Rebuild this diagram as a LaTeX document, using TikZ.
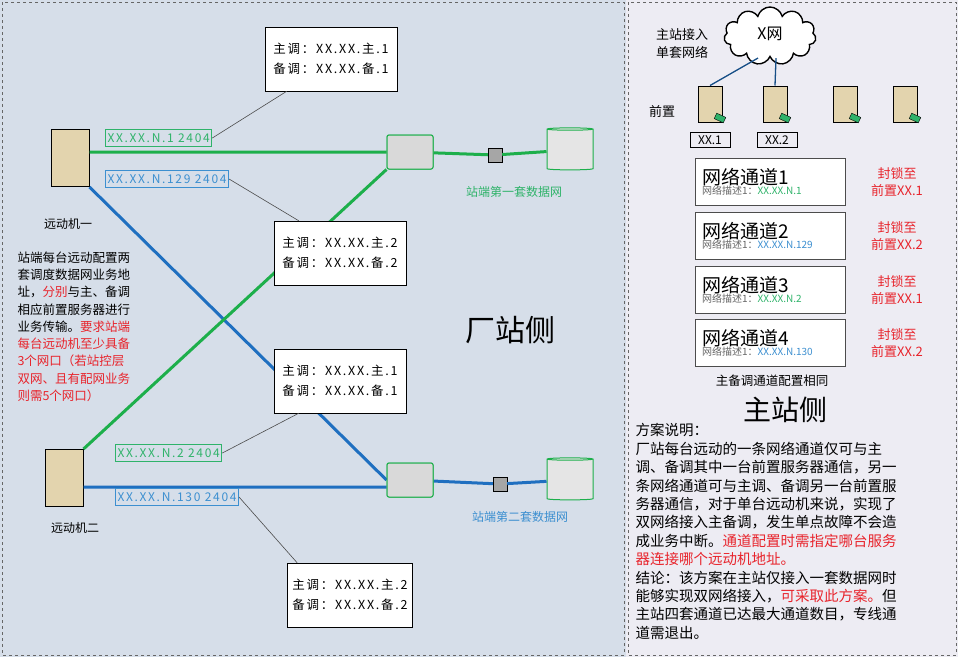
\documentclass[tikz,border=0pt]{standalone}
\usepackage{fontspec}
\setmainfont{Noto Sans CJK SC}
\newfontfamily\widefont[LetterSpace=14]{Noto Sans CJK SC}
\usepackage{tikz}
\usetikzlibrary{shapes.geometric, shapes.symbols, arrows.meta, positioning}

\definecolor{leftbg}{HTML}{D6DEE9}
\definecolor{rightbg}{HTML}{EDECF3}
\definecolor{netgreen}{HTML}{1DAF4B}
\definecolor{netblue}{HTML}{1F6FC0}
\definecolor{lblblue}{HTML}{3C8FD0}
\definecolor{lblgreen}{HTML}{2FB36A}
\definecolor{warnred}{HTML}{E8242C}
\definecolor{serverbeige}{HTML}{E3D4AE}

\tikzset{
    server/.style={draw=black, line width=1pt, fill=serverbeige, minimum width=#1, minimum height=1.5*#1, inner sep=0pt},
    addrbox/.style={rectangle, draw, fill=white, minimum width=132pt, minimum height=64pt, align=left, font=\widefont\fontsize{12.5}{20}\selectfont, inner sep=5pt},
    iplabel/.style={rectangle, draw=#1, line width=1pt, text=#1, fill=leftbg, font=\widefont\fontsize{12}{13}\selectfont, inner sep=2pt, minimum height=17pt},
    thin/.style={draw=black!70, line width=0.6pt},
    greenline/.style={draw=netgreen, line width=3pt},
    blueline/.style={draw=netblue, line width=3pt},
    switchbox/.style={rectangle, draw=netgreen, fill=black!15, line width=1pt, minimum width=46pt, minimum height=34pt, rounded corners=2pt},
    router/.style={cylinder, shape border rotate=90, aspect=0.35, draw=netgreen, line width=1pt, fill=black!10, minimum width=46pt, minimum height=42pt},
    lockbox/.style={rectangle, draw=black, fill=black!35, minimum width=14pt, minimum height=14pt, inner sep=0pt},
    chanbox/.style={rectangle, draw=black!70, fill=white, line width=1pt, text width=136pt, minimum height=47pt, inner xsep=7pt, inner ysep=3pt, align=left},
    redtag/.style={text=warnred, align=center, font=\fontsize{13}{17}\selectfont},
    plain/.style={font=\fontsize{13}{16}\selectfont}
}

\begin{document}
\begin{tikzpicture}[x=1pt, y=-1pt]

% Backgrounds
\useasboundingbox (0,0) rectangle (958,657);
\fill[leftbg] (0,0) rectangle (626,657);
\fill[rightbg] (626,0) rectangle (958,657);
\draw[dashed, black!60] (2,2) rectangle (624,655);
\draw[dashed, black!60] (628,2) rectangle (956,655);

% Station side devices
\node[server=38pt] (rtu1) at (70,158) {};
\node[server=38pt] (rtu2) at (64,478) {};
\node[plain, font=\fontsize{12}{14}\selectfont] (rtu1lbl) at (68,224) {远动机一};
\node[plain, font=\fontsize{12}{14}\selectfont] (rtu2lbl) at (75,528) {远动机二};

\node[switchbox] (sw1) at (410,152) {};
\node[switchbox] (sw2) at (410,480) {};
\node[lockbox] (lock1) at (495,155) {};
\node[lockbox] (lock2) at (500,484) {};
\node[router] (rt1) at (570,150) {};
\node[router] (rt2) at (570,480) {};

% Network lines
\draw[greenline] (rtu1.east |- 0,152) -- (sw1) -- (lock1) -- (rt1);
\draw[blueline] (rtu2.east |- 0,487) -- (sw2.west |- 0,487) (sw2) -- (lock2) -- (rt2);
\draw[blueline] (rtu1.south east) -- (sw2.west);
\draw[greenline] (rtu2.north east) -- (sw1.south west);
\node[switchbox] at (sw1) {};
\node[switchbox] at (sw2) {};

% Address boxes
\node[addrbox] (addr1) at (331,59) {主调：XX.XX.主.1\\备调：XX.XX.备.1};
\node[addrbox] (addr2) at (340,253) {主调：XX.XX.主.2\\备调：XX.XX.备.2};
\node[addrbox] (addr3) at (340,381) {主调：XX.XX.主.1\\备调：XX.XX.备.1};
\node[addrbox, minimum width=122pt] (addr4) at (350,595) {主调：XX.XX.主.2\\备调：XX.XX.备.2};

% IP labels
\node[iplabel=lblgreen, anchor=west] (ip1) at (105,138) {XX.XX.N.1 2404};
\node[iplabel=lblblue, anchor=west] (ip129) at (105,179) {XX.XX.N.129 2404};
\node[iplabel=lblgreen, anchor=west] (ip2) at (115,453) {XX.XX.N.2 2404};
\node[iplabel=lblblue, anchor=west] (ip130) at (115,497) {XX.XX.N.130 2404};

\draw[thin] (ip1.east) -- ([xshift=22pt]addr1.south west);
\draw[thin] (ip129.east) -- ([xshift=25pt]addr2.north west);
\draw[thin] (ip2.east) -- ([xshift=25pt]addr3.south west);
\draw[thin] (ip130.east) -- ([xshift=10pt]addr4.north west);

\node[text=lblgreen, font=\fontsize{12}{14}\selectfont] (net1) at (514,192) {站端第一套数据网};
\node[text=lblblue, font=\fontsize{12}{14}\selectfont] (net2) at (520,517) {站端第二套数据网};

% Left description
\node[anchor=north west, align=left, font=\fontsize{12.5}{17.3}\selectfont] (desc) at (14,248)
  {站端每台远动配置两\\套调度数据网业务地\\址，\textcolor{warnred}{分别}与主、备调\\相应前置服务器进行\\业务传输。\textcolor{warnred}{要求站端}\\\textcolor{warnred}{每台远动机至少具备}\\\textcolor{warnred}{3个网口（若站控层}\\\textcolor{warnred}{双网、且有配网业务}\\\textcolor{warnred}{则需5个网口）}};

\node[font=\fontsize{30}{34}\selectfont] (plantside) at (510,330) {厂站侧};

% Master station side
\node[cloud, cloud puffs=11, draw, fill=white, line width=1.4pt, minimum width=92pt, minimum height=58pt] (xnet) at (770,36) {};
\node[font=\fontsize{16}{18}\selectfont] (xnetlbl) at (770,34) {X网};
\node[plain, align=left, font=\fontsize{13}{18}\selectfont] (single) at (682,44) {主站接入\\单套网络};
\node[plain] (fe) at (662,112) {前置};
\foreach \i/\x in {1/710, 2/775, 3/845, 4/905}{
  \node[server=24pt] (fe\i) at (\x,104) {};
  \node[rectangle, draw=black, fill=lblgreen, minimum width=10pt, minimum height=6pt, inner sep=0pt, rotate=-25] at (\x+10,118) {};
}
\draw[netblue!70!black, line width=1.3pt] ([xshift=-12pt]xnet.south) -- (fe1.north);
\draw[netblue!70!black, line width=1.3pt] ([xshift=6pt]xnet.south) -- (fe2.north);
\node[rectangle, draw, line width=1pt, font=\fontsize{12}{14}\selectfont, minimum width=40pt] (fe1ip) at (710,140) {XX.1};
\node[rectangle, draw, line width=1pt, font=\fontsize{12}{14}\selectfont, minimum width=40pt] (fe2ip) at (777,140) {XX.2};

\foreach \n/\ip/\col/\fe/\y in {1/XX.XX.N.1/lblgreen/1/182, 2/XX.XX.N.129/lblblue/2/236, 3/XX.XX.N.2/lblgreen/1/290, 4/XX.XX.N.130/lblblue/2/343}{
  \node[chanbox] (ch\n) at (770,\y) {{\fontsize{19}{21}\selectfont 网络通道\n}\\[-2pt]{\fontsize{10}{12}\selectfont\textcolor{black!60}{网络描述1：}\textcolor{\col}{\ip}}};
  \node[redtag] (lock\n) at (897,\y) {封锁至\\前置XX.\fe};
}

\node[plain, font=\fontsize{12.5}{14}\selectfont] (same) at (772,381) {主备调通道配置相同};
\node[font=\fontsize{28}{30}\selectfont] (masterside) at (785,410) {主站侧};

\node[anchor=north west, align=left, font=\fontsize{14.5}{18.4}\selectfont] (plan) at (632,420)
  {方案说明：\\厂站每台远动的一条网络通道仅可与主\\调、备调其中一台前置服务器通信，另一\\条网络通道可与主调、备调另一台前置服\\务器通信，对于单台远动机来说，实现了\\双网络接入主备调，发生单点故障不会造\\成业务中断。\textcolor{warnred}{通道配置时需指定哪台服务}\\\textcolor{warnred}{器连接哪个远动机地址。}\\结论：该方案在主站仅接入一套数据网时\\能够实现双网络接入，\textcolor{warnred}{可采取此方案。}但\\主站四套通道已达最大通道数目，专线通\\道需退出。};

\end{tikzpicture}
\end{document}
